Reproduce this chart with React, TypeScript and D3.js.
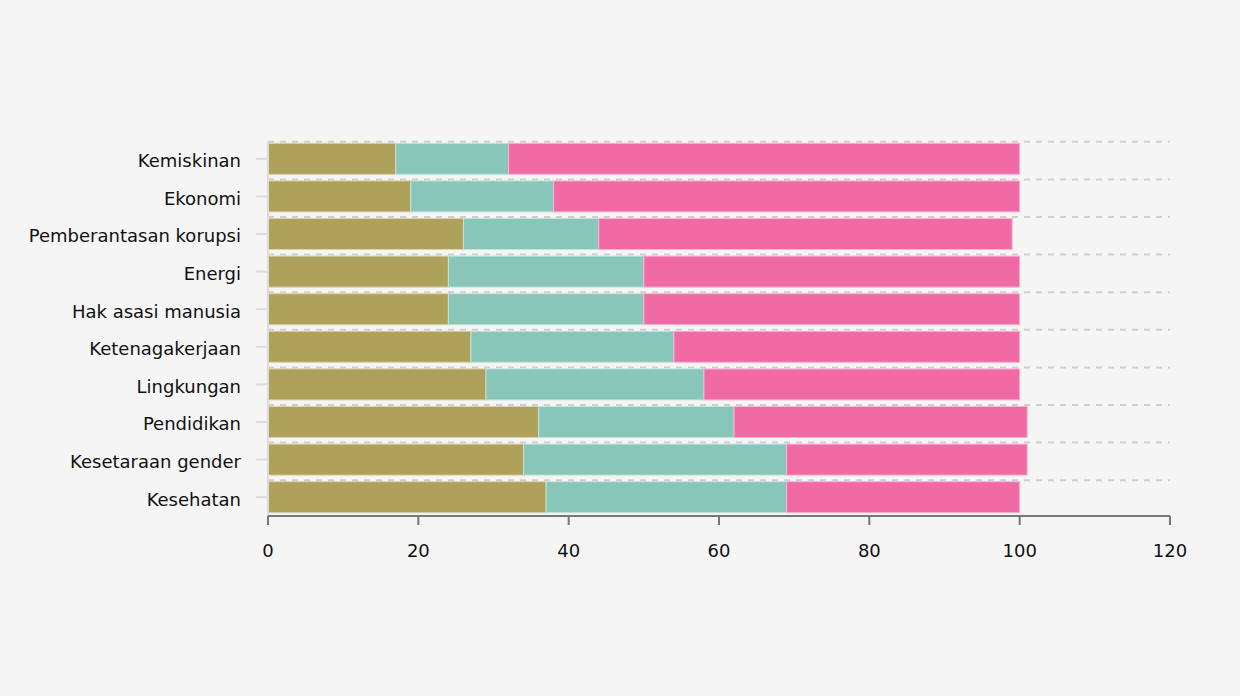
import React from "react";
import * as d3 from "d3";

const categories = [
  "Kemiskinan",
  "Ekonomi",
  "Pemberantasan korupsi",
  "Energi",
  "Hak asasi manusia",
  "Ketenagakerjaan",
  "Lingkungan",
  "Pendidikan",
  "Kesetaraan gender",
  "Kesehatan",
];
const seriesA = [17, 19, 26, 24, 24, 27, 29, 36, 34, 37];
const seriesB = [15, 19, 18, 26, 26, 27, 29, 26, 35, 32];
const seriesC = [68, 62, 55, 50, 50, 46, 42, 39, 32, 31];
const seriesColors = ["#aea25b", "#88c6ba", "#f06aa4"];
const xTicks = [0, 20, 40, 60, 80, 100, 120];

const W = 1240;
const H = 696;
const left = 268;
const right = 1170;
const top = 140;
const bottom = 516;
const FONT = "'DejaVu Sans', Verdana, sans-serif";

export default function App() {
  const x = d3.scaleLinear().domain([0, 120]).range([left, right]);
  const y = d3
    .scaleBand<string>()
    .domain(categories)
    .range([top, bottom])
    .paddingInner(0.175)
    .paddingOuter(0.0875);
  const rows = categories.map((c, i) => ({
    c,
    a: seriesA[i],
    b: seriesB[i],
    cc: seriesC[i],
  }));
  const stack = d3.stack<any>().keys(["a", "b", "cc"])(rows);
  const lighter = (col: string) => d3.interpolateRgb(col, "#ffffff")(0.5);

  return (
    <svg
      width={W}
      height={H}
      style={{ position: "absolute", left: 0, top: 0, background: "#f5f5f5" }}
    >
      <rect x={0} y={0} width={W} height={H} fill="#f5f5f5" />
      {categories.map((c) => (
        <line
          key={"g" + c}
          x1={left}
          x2={right}
          y1={(y(c) as number) - 1.5}
          y2={(y(c) as number) - 1.5}
          stroke="#cfcfcf"
          strokeWidth={2}
          strokeDasharray="6,6"
        />
      ))}
      {stack.map((s, si) => (
        <g key={"s" + si}>
          {s.map((d, i) => (
            <rect
              key={i}
              x={x(d[0])}
              y={y(categories[i])}
              width={x(d[1]) - x(d[0])}
              height={y.bandwidth()}
              fill={seriesColors[si]}
              stroke={lighter(seriesColors[si])}
              strokeWidth={1}
            />
          ))}
        </g>
      ))}
      <line x1={left} x2={left} y1={top + 2} y2={bottom} stroke="#dcdcdc" strokeWidth={2} />
      {categories.map((c) => {
        const cy = (y(c) as number) + y.bandwidth() / 2;
        return (
          <g key={"y" + c}>
            <line x1={left - 12} x2={left} y1={cy} y2={cy} stroke="#dcdcdc" strokeWidth={2} />
            <text
              x={left - 27}
              y={cy + 2}
              dy="0.35em"
              textAnchor="end"
              fontFamily={FONT}
              fontSize={18}
              fill="#111"
            >
              {c}
            </text>
          </g>
        );
      })}
      <line x1={left} x2={right} y1={bottom} y2={bottom} stroke="#777" strokeWidth={2} />
      {xTicks.map((t) => (
        <g key={"x" + t}>
          <line x1={x(t)} x2={x(t)} y1={bottom} y2={bottom + 9} stroke="#777" strokeWidth={2} />
          <text
            x={x(t)}
            y={bottom + 35}
            dy="0.35em"
            textAnchor="middle"
            fontFamily={FONT}
            fontSize={18}
            fill="#111"
          >
            {t}
          </text>
        </g>
      ))}
    </svg>
  );
}
